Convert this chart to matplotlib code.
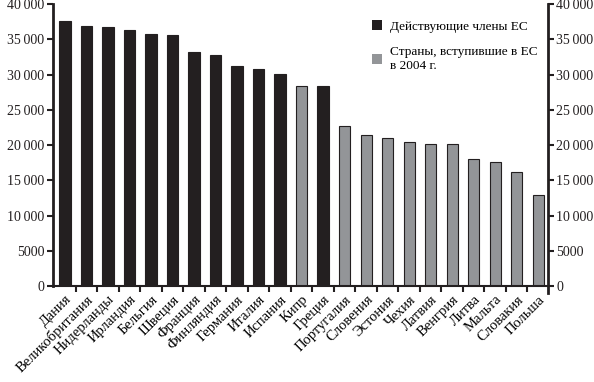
import matplotlib
matplotlib.use("Agg")
import matplotlib.pyplot as plt
from matplotlib.patches import Patch
import numpy as np

plt.rcParams['font.family'] = ['Liberation Serif', 'DejaVu Serif']

countries = ['Дания', 'Великобритания', 'Нидерланды', 'Ирландия', 'Бельгия', 'Швеция',
             'Франция', 'Финляндия', 'Германия', 'Италия', 'Испания', 'Кипр', 'Греция',
             'Португалия', 'Словения', 'Эстония', 'Чехия', 'Латвия', 'Венгрия', 'Литва',
             'Мальта', 'Словакия', 'Польша']
values = [37600, 36900, 36800, 36400, 35800, 35650, 33250, 32850, 31300, 30850, 30150,
          28400, 28400, 22650, 21450, 20950, 20500, 20200, 20200, 18100, 17550, 16250, 12900]
# True = действующий член ЕС, False = вступившие в 2004 г.
old_member = [True] * 11 + [False, True] + [False] * 10

yticks = [0, 5000, 10000, 15000, 20000, 25000, 30000, 35000, 40000]
ytick_labels = ['0', '5000', '10\u2009000', '15\u2009000', '20\u2009000',
                '25\u2009000', '30\u2009000', '35\u2009000', '40\u2009000']

legend_labels = ['Действующие члены ЕС', 'Страны, вступившие в ЕС\nв 2004 г.']

dark = '#231f20'
grey = '#939598'

fig = plt.figure(figsize=(5.94, 3.82), dpi=100)
ax = fig.add_axes([0.089, 0.251, 0.833, 0.738])

x = np.arange(len(countries))
colors = [dark if m else grey for m in old_member]
ax.bar(x, values, width=0.52, color=colors, edgecolor=dark, linewidth=0.8)

ax.set_xlim(-0.56, len(countries) - 0.56)
ax.set_ylim(0, 40000)

ax.set_yticks(yticks)
ax.set_yticklabels(ytick_labels)
ax.tick_params(axis='y', which='major', left=True, right=True, labelleft=True, labelright=True,
               direction='out', length=4, width=1.5, labelsize=10, pad=2, colors=dark)

ax.set_xticks(x)
ax.set_xticklabels(countries, rotation=45, ha='right', va='top', rotation_mode='anchor', fontsize=10.5)
ax.tick_params(axis='x', which='major', length=0, pad=5)
ax.set_xticks(x[:-1] + 0.5, minor=True)
ax.tick_params(axis='x', which='minor', length=4, width=1.5, direction='out', colors=dark)

ax.spines['top'].set_visible(False)
for s in ['left', 'right']:
    ax.spines[s].set_linewidth(2)
    ax.spines[s].set_color(dark)
ax.spines['right'].set_bounds(-1000, 40000)
ax.spines['bottom'].set_linewidth(1.5)
ax.spines['bottom'].set_color(dark)

handles = [Patch(facecolor=dark, edgecolor='none'), Patch(facecolor=grey, edgecolor='none')]
ax.legend(handles, legend_labels, loc='upper left', bbox_to_anchor=(0.62, 0.985),
          frameon=False, fontsize=9.5, handlelength=0.8, handleheight=0.8,
          labelspacing=1.0, handletextpad=0.6)

fig.savefig('out.png', dpi=100)
